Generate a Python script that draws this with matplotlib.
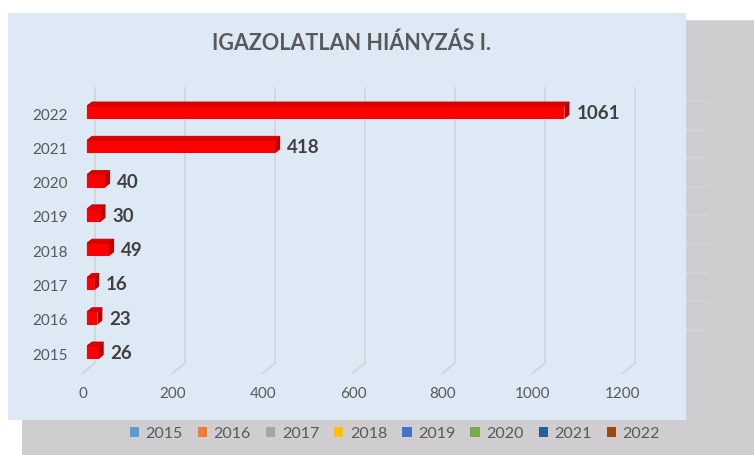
import matplotlib
matplotlib.use('Agg')
import matplotlib.pyplot as plt
from matplotlib.patches import Rectangle, Polygon, Patch
import numpy as np

# ========== data ==========
years = ['2015', '2016', '2017', '2018', '2019', '2020', '2021', '2022']
absences = [26, 23, 16, 49, 30, 40, 418, 1061]
x_ticks = [0, 200, 400, 600, 800, 1000, 1200]
legend_colours = ['#5B9BD5', '#ED7D31', '#A5A5A5', '#FFC000',
                  '#4472C4', '#70AD47', '#255E91', '#9E480E']
title = 'IGAZOLATLAN HIÁNYZÁS I.'

# ========== layout (pixels, origin top-left) ==========
W, H = 754, 455
AX_LEFT, AX_RIGHT = 87, 627
CAT_TOP, CAT_BOTTOM = 112.5, 352.5           # centres of 2022 / 2015
STEP = (CAT_BOTTOM - CAT_TOP) / (len(years) - 1)
AX_TOP = CAT_TOP - STEP / 2
AX_BOTTOM = CAT_BOTTOM + STEP / 2
XMAX = 1200

PX_X = XMAX / (AX_RIGHT - AX_LEFT)          # data units per pixel
PX_Y = 1 / STEP

GREY_TXT = '#595959'
plt.rcParams['font.family'] = ['Lato', 'DejaVu Sans']

fig = plt.figure(figsize=(W / 100, H / 100), dpi=100)
fig.patch.set_facecolor('white')

# background panels
fig.add_artist(Rectangle((22 / W, 0), 1 - 22 / W, (H - 20) / H,
                         transform=fig.transFigure, facecolor='#CFCDCF',
                         edgecolor='none', zorder=0))
fig.add_artist(Rectangle((686 / W, (H - 21) / H), 1 - 686 / W, 1.5 / H,
                         transform=fig.transFigure, facecolor='#D9D8D9',
                         edgecolor='none', zorder=0))
for yy in np.arange(101, 335, 28.6):
    fig.add_artist(plt.Line2D([686 / W, 708 / W], [1 - yy / H, 1 - yy / H],
                              transform=fig.transFigure, color='#D6D4D6',
                              lw=1.2, zorder=0))
fig.add_artist(Rectangle((8 / W, (H - 420) / H), 678 / W, 407 / H,
                         transform=fig.transFigure, facecolor='#DDEAF6',
                         edgecolor='none', zorder=0))

ax = fig.add_axes([AX_LEFT / W, 1 - AX_BOTTOM / H,
                   (AX_RIGHT - AX_LEFT) / W, (AX_BOTTOM - AX_TOP) / H])
ax.set_facecolor('none')
ax.set_xlim(0, XMAX)
ax.set_ylim(-0.5, len(years) - 0.5)
for s in ax.spines.values():
    s.set_visible(False)
ax.set_xticks([])
ax.set_yticks([])

# ========== grid (back wall + floor) ==========
y_top = len(years) - 0.5 + (AX_TOP - 88) * PX_Y
y_bot = -0.5 + (AX_BOTTOM - 363) * PX_Y
for v in x_ticks:
    xb = v + 8 * PX_X
    ax.plot([xb, xb], [y_bot, y_top], color='#D2D5D9', lw=1.3,
            zorder=1, clip_on=False)
    ax.plot([xb, v - 4 * PX_X], [y_bot, y_bot - 10 * PX_Y], color='#D2D5D9',
            lw=1.3, zorder=1, clip_on=False)
    ax.text(v - 4 * PX_X, -0.5 - (394.5 - AX_BOTTOM) * PX_Y, str(v),
            ha='center', va='center', fontsize=11, color=GREY_TXT)

# ========== 3D bars ==========
pos = np.arange(len(years))
bar_h = 13 * PX_Y
dx, dy = 5 * PX_X, 4 * PX_Y
ax.barh(pos, absences, height=bar_h, color='#FF0000', edgecolor='none',
        zorder=3)
for p, v in zip(pos, absences):
    top = p + bar_h / 2
    bot = p - bar_h / 2
    ax.add_patch(Polygon([(0, top), (v, top), (v + dx, top + dy),
                          (dx, top + dy)], closed=True, facecolor='#DC0000',
                         edgecolor='#C00000', lw=0.6, zorder=3))
    ax.add_patch(Polygon([(v, bot), (v, top), (v + dx, top + dy),
                          (v + dx, bot + dy)], closed=True,
                         facecolor='#C00000', edgecolor='none', zorder=3))
    ax.text(v + 12 * PX_X, p - 1 * PX_Y, str(v), ha='left', va='center',
            fontsize=13.5, fontweight='bold', color='#404040', zorder=4)
    ax.text(-(AX_LEFT - 67.5) * PX_X, p - 3 * PX_Y, years[p], ha='right',
            va='center', fontsize=11, color=GREY_TXT)

# ========== title & legend ==========
fig.text(352 / W, 1 - 43 / H, title, ha='center', va='center',
         fontsize=15.5, fontweight='bold', color=GREY_TXT)

handles = [Patch(facecolor=c, edgecolor='none', label=y)
           for c, y in zip(legend_colours, years)]
fig.legend(handles=handles, ncol=len(years), loc='center',
           bbox_to_anchor=(395 / W, 1 - 434 / H), frameon=False,
           fontsize=11.5, labelcolor=GREY_TXT, handlelength=0.58,
           handleheight=0.58, handletextpad=0.4, columnspacing=0.95,
           borderpad=0)

fig.savefig('out.png', dpi=100, facecolor=fig.get_facecolor())
